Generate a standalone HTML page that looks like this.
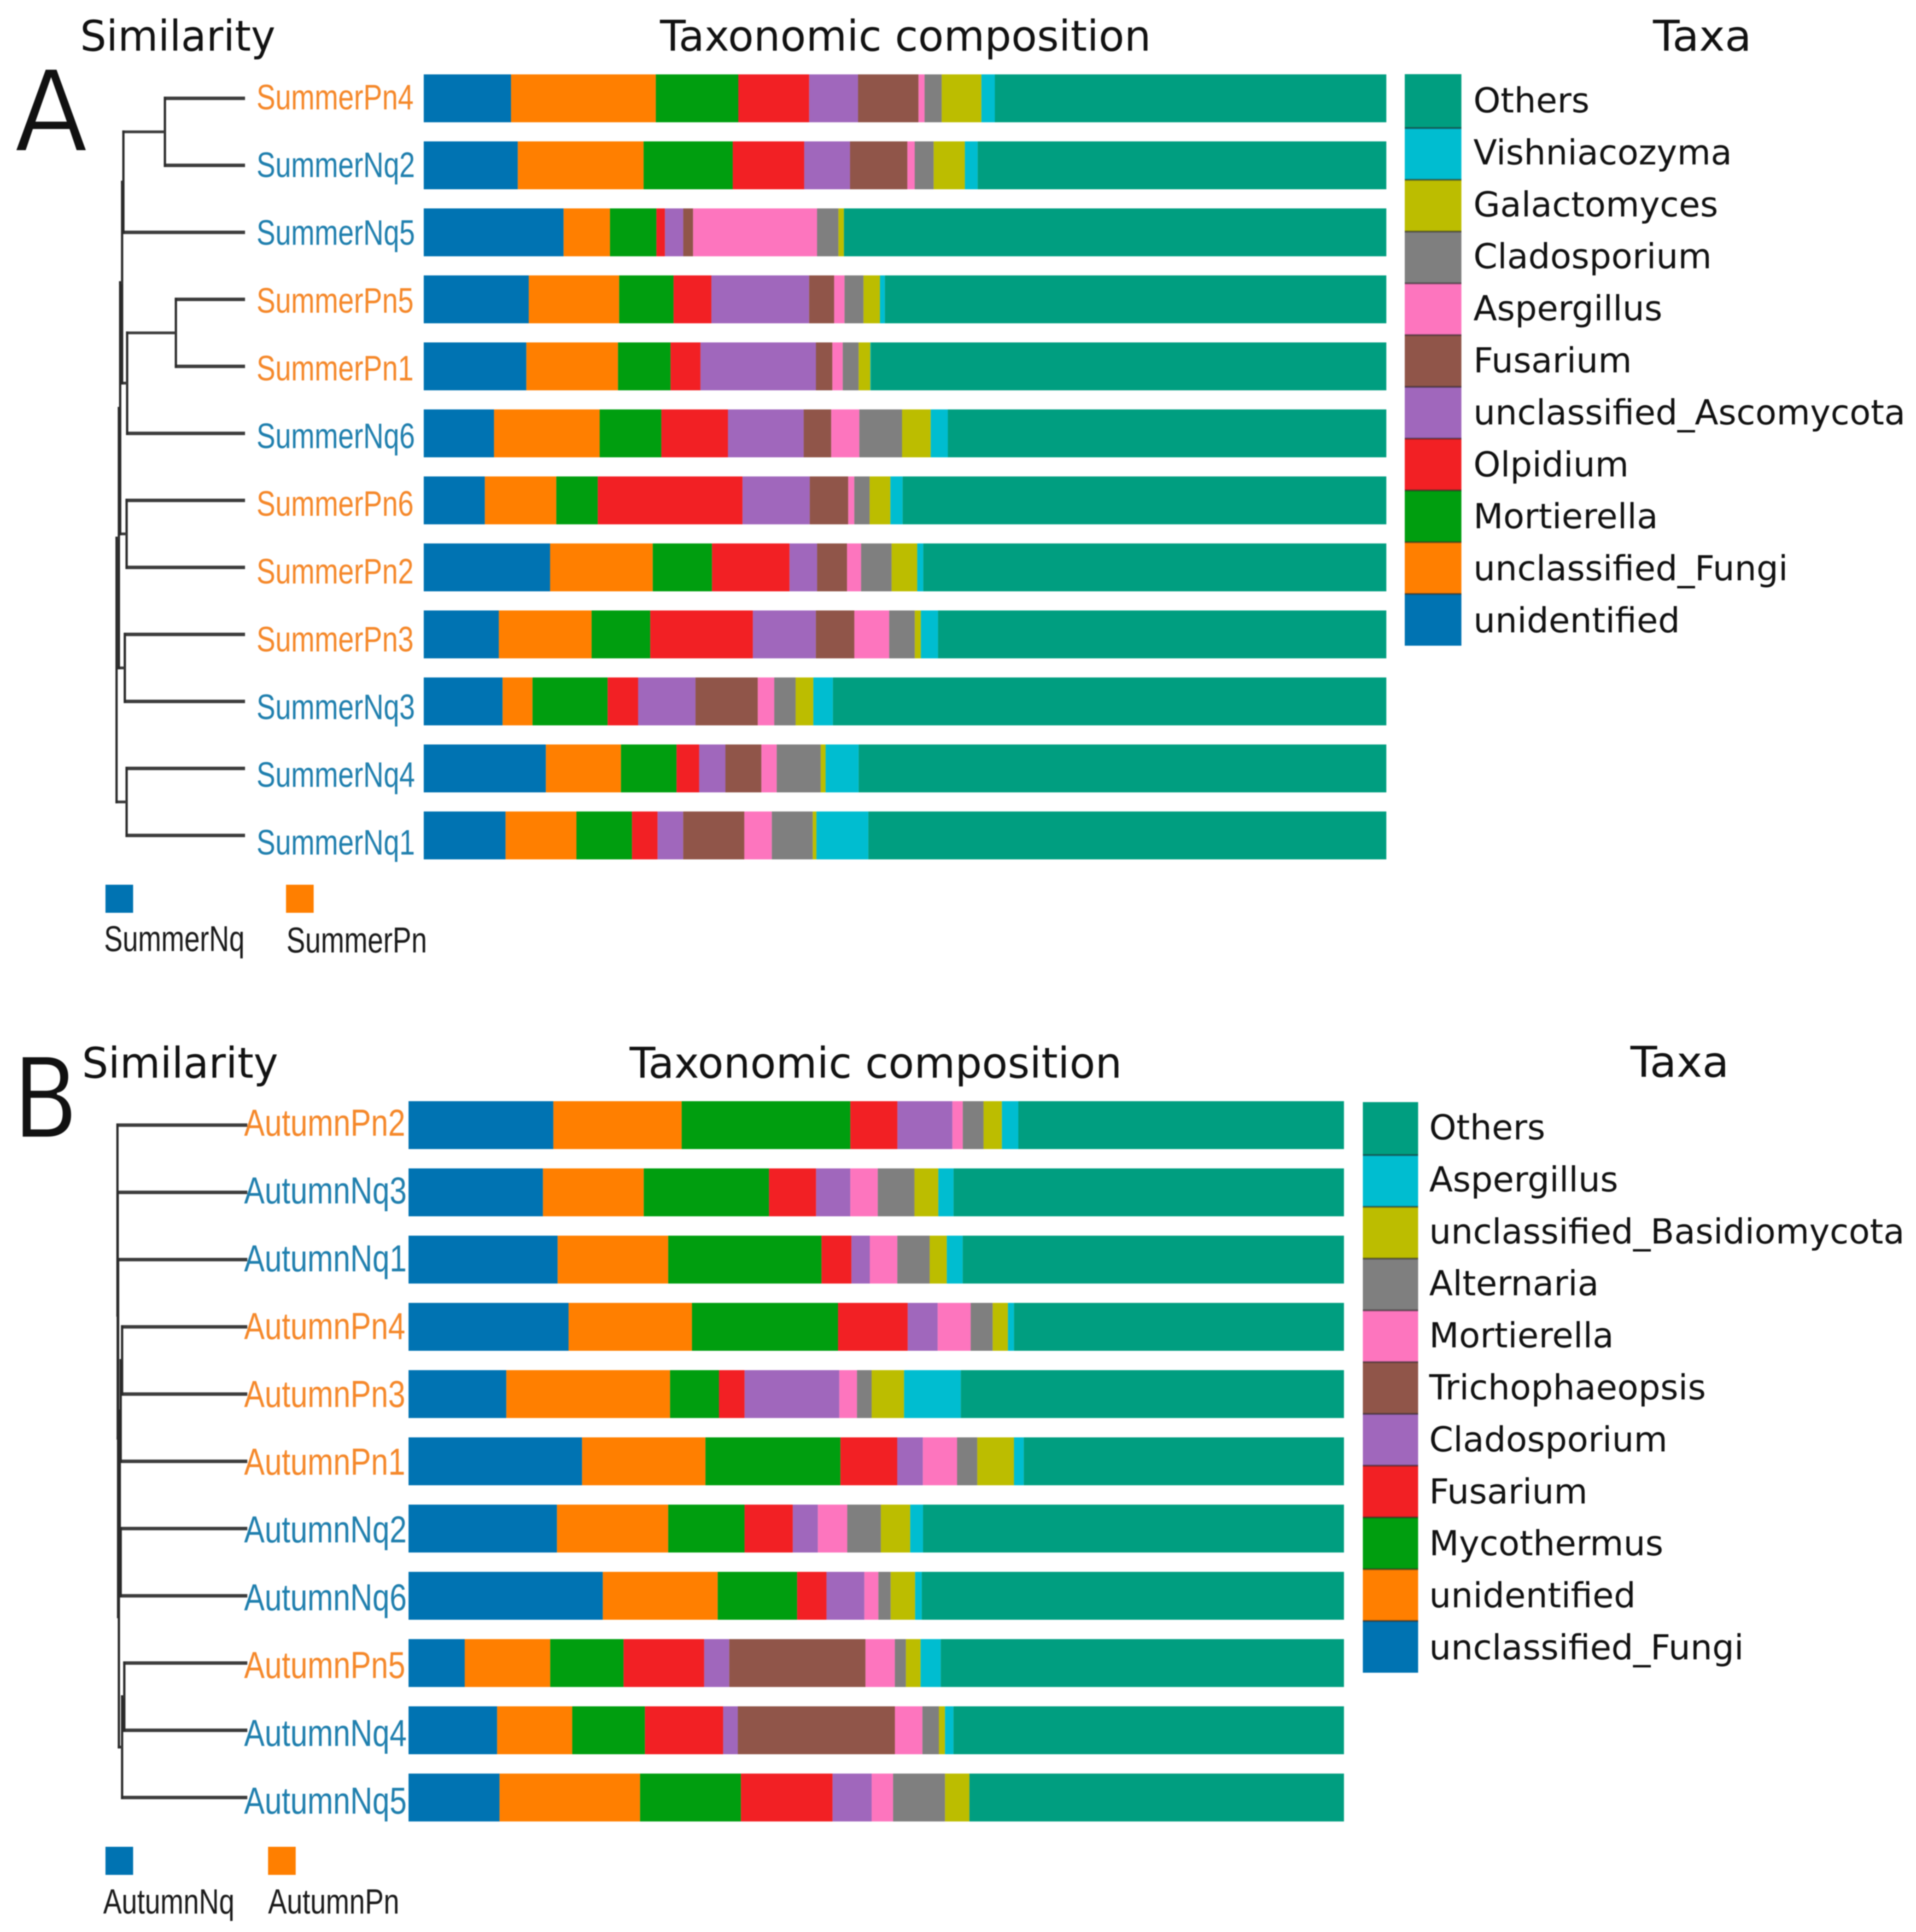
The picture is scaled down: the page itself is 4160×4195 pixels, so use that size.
<!DOCTYPE html>
<html lang="en">
<head>
<meta charset="utf-8">
<title>Taxonomic composition of summer and autumn samples</title>
<style>
  html, body { margin: 0; padding: 0; background: #ffffff; }
  svg { display: block; filter: blur(1.2px); }
  .dv { font-family: "DejaVu Sans", "Liberation Sans", sans-serif; fill: #111111; }
  .ls { font-family: "Liberation Sans", sans-serif; }
</style>
</head>
<body>
<svg id="figure" xmlns="http://www.w3.org/2000/svg" width="4160" height="4195" viewBox="0 0 4160 4195">
  <rect x="0" y="0" width="4160" height="4195" fill="#ffffff"/>

  <text class="dv" x="31" y="328" font-size="245" textLength="160" lengthAdjust="spacingAndGlyphs" stroke="#ffffff" stroke-width="4">A</text>
  <text class="dv" x="174" y="110" font-size="92" textLength="424" lengthAdjust="spacingAndGlyphs">Similarity</text>
  <text class="dv" x="1433" y="110" font-size="92" textLength="1066" lengthAdjust="spacingAndGlyphs">Taxonomic composition</text>
  <text class="dv" x="3589" y="110" font-size="92" textLength="214" lengthAdjust="spacingAndGlyphs">Taxa</text>

  <text class="dv" x="27" y="2470" font-size="242" textLength="144" lengthAdjust="spacingAndGlyphs" stroke="#ffffff" stroke-width="4">B</text>
  <text class="dv" x="178" y="2340" font-size="92" textLength="426" lengthAdjust="spacingAndGlyphs">Similarity</text>
  <text class="dv" x="1367" y="2340" font-size="92" textLength="1069" lengthAdjust="spacingAndGlyphs">Taxonomic composition</text>
  <text class="dv" x="3540" y="2338" font-size="92" textLength="214" lengthAdjust="spacingAndGlyphs">Taxa</text>

  <g id="panel-a"></g>
  <g id="panel-b"></g>
</svg>

<script>
// Panel A categories (top to bottom)
const summerSamples = ["SummerPn4","SummerNq2","SummerNq5","SummerPn5","SummerPn1","SummerNq6","SummerPn6","SummerPn2","SummerPn3","SummerNq3","SummerNq4","SummerNq1"];
// Panel A taxa, in stacking order (left to right)
const summerTaxa = ["unidentified","unclassified_Fungi","Mortierella","Olpidium","unclassified_Ascomycota","Fusarium","Aspergillus","Cladosporium","Galactomyces","Vishniacozyma","Others"];
// Panel A relative abundance (%) per sample
const summerPn4 = [9.07,15.04,8.57,7.36,5.08,6.28,0.63,1.78,4.12,1.40,40.67];
const summerNq2 = [9.77,13.07,9.26,7.42,4.76,5.96,0.76,1.97,3.24,1.33,42.45];
const summerNq5 = [14.53,4.82,4.82,0.89,1.90,1.02,12.88,2.22,0.57,0,56.35];
const summerPn5 = [10.91,9.39,5.65,3.93,10.15,2.60,1.08,1.97,1.71,0.51,52.09];
const summerPn1 = [10.66,9.52,5.46,3.11,11.99,1.71,1.08,1.65,1.21,0.06,53.55];
const summerNq6 = [7.30,10.98,6.41,6.92,7.87,2.86,2.92,4.44,2.98,1.78,45.56];
const summerPn6 = [6.35,7.42,4.31,15.04,6.98,4.00,0.63,1.59,2.16,1.27,50.25];
const summerPn2 = [13.13,10.66,6.15,8.06,2.86,3.11,1.46,3.17,2.66,0.63,48.10];
const summerPn3 = [7.80,9.64,6.09,10.66,6.54,4.00,3.62,2.66,0.63,1.78,46.57];
const summerNq3 = [8.19,3.11,7.80,3.17,5.96,6.47,1.71,2.22,1.84,2.03,57.49];
const summerNq4 = [12.69,7.80,5.77,2.35,2.73,3.74,1.59,4.57,0.51,3.43,54.82];
const summerNq1 = [8.50,7.36,5.77,2.66,2.66,6.35,2.86,4.25,0.38,5.39,53.81];
const summerValues = [summerPn4,summerNq2,summerNq5,summerPn5,summerPn1,summerNq6,summerPn6,summerPn2,summerPn3,summerNq3,summerNq4,summerNq1];
// Panel A dendrogram merges: [node, child, child, distance]
const summerMerges = [
  ["n1","SummerPn4","SummerNq2",61.4],
  ["n2","n1","SummerNq5",93.6],
  ["n3","SummerPn5","SummerPn1",52.9],
  ["n4","n3","SummerNq6",90.7],
  ["n5","n2","n4",94.6],
  ["n6","SummerPn6","SummerPn2",91.1],
  ["n7","n5","n6",96.1],
  ["n9","SummerPn3","SummerNq3",92.5],
  ["n8","n7","n9",97.1],
  ["n10","SummerNq4","SummerNq1",91.1],
  ["root","n8","n10",98.9]
];
const summerGroups = ["SummerNq","SummerPn"];

// Panel B categories (top to bottom)
const autumnSamples = ["AutumnPn2","AutumnNq3","AutumnNq1","AutumnPn4","AutumnPn3","AutumnPn1","AutumnNq2","AutumnNq6","AutumnPn5","AutumnNq4","AutumnNq5"];
// Panel B taxa, in stacking order (left to right)
const autumnTaxa = ["unclassified_Fungi","unidentified","Mycothermus","Fusarium","Cladosporium","Trichophaeopsis","Mortierella","Alternaria","unclassified_Basidiomycota","Aspergillus","Others"];
// Panel B relative abundance (%) per sample
const autumnPn2 = [15.48,13.72,18.03,5.03,5.88,0,1.11,2.22,1.96,1.76,34.81];
const autumnNq3 = [14.37,10.78,13.39,5.03,3.66,0,2.94,3.92,2.55,1.63,41.74];
const autumnNq1 = [15.94,11.82,16.39,3.20,1.96,0,2.94,3.46,1.83,1.70,40.76];
const autumnPn4 = [17.11,13.19,15.61,7.45,3.20,0,3.53,2.35,1.63,0.65,35.27];
const autumnPn3 = [10.45,17.50,5.23,2.74,10.12,0,1.89,1.57,3.46,6.07,40.95];
const autumnPn1 = [18.55,13.19,14.43,6.07,2.74,0,3.66,2.16,3.92,1.05,34.23];
const autumnNq2 = [15.87,11.89,8.16,5.16,2.68,0,3.14,3.59,3.14,1.37,45.00];
const autumnNq6 = [20.77,12.28,8.49,3.14,4.05,0,1.50,1.31,2.61,0.72,45.13];
const autumnPn5 = [6.01,9.14,7.84,8.62,2.68,14.57,3.14,1.18,1.57,2.16,43.11];
const autumnNq4 = [9.47,8.03,7.77,8.36,1.57,16.79,2.94,1.76,0.65,0.91,41.74];
const autumnNq5 = [9.73,15.02,10.78,9.80,4.18,0,2.29,5.55,2.61,0,40.04];
const autumnValues = [autumnPn2,autumnNq3,autumnNq1,autumnPn4,autumnPn3,autumnPn1,autumnNq2,autumnNq6,autumnPn5,autumnNq4,autumnNq5];
// Panel B dendrogram merges: [node, child, child, distance]
const autumnMerges = [
  ["a","AutumnPn4","AutumnPn3",97.1],
  ["b","a","AutumnPn1",98.2],
  ["c","AutumnNq2","AutumnNq6",98.2],
  ["d","b","c",98.9],
  ["e","AutumnPn5","AutumnNq4",95.4],
  ["f","e","AutumnNq5",97.1],
  ["g","d","f",99.6],
  ["h","AutumnNq1","g",100.2],
  ["i","AutumnNq3","h",100.5],
  ["root","AutumnPn2","i",100.7]
];
const autumnGroups = ["AutumnNq","AutumnPn"];

// Colours shared by both panels, in stacking order
const palette = ["#0073b2","#ff7f00","#009e0f","#f22024","#a067bc","#905549","#fd75be","#7f7f7f","#bcbd00","#00bdd0","#009e80"];

const NS = "http://www.w3.org/2000/svg";

function makeSvg(parent, tag, attrs, content) {
  const el = document.createElementNS(NS, tag);
  for (const key in attrs) el.setAttribute(key, attrs[key]);
  if (content !== undefined) el.textContent = content;
  parent.appendChild(el);
  return el;
}

function slug(text) {
  return text.toLowerCase().replace(/[^a-z0-9]+/g, "-");
}

function drawBars(g, cfg) {
  const rowY = function (i) { return cfg.barTop + cfg.rowPitch * i; };
  cfg.samples.forEach(function (sample, i) {
    const vals = cfg.values[i];
    const total = vals.reduce(function (s, v) { return s + v; }, 0);
    const xOf = function (v) { return cfg.barLeft + (v / total) * cfg.barWidth; };
    let cum = 0;
    vals.forEach(function (v, k) {
      const rect = makeSvg(g, "rect", { x: xOf(cum), y: rowY(i), width: Math.max(0, xOf(cum + v) - xOf(cum)), height: cfg.barHeight, fill: palette[k] });
      
      
      cum += v;
    });
    const isPn = sample.indexOf("Pn") >= 0;
    const label = makeSvg(g, "text", { class: "ls", x: cfg.labelX, y: cfg.labelBase + cfg.labelPitch * i, "font-size": cfg.labelSize, fill: isPn ? "#f5882a" : "#1f7fae", textLength: isPn ? cfg.labelPn : cfg.labelNq, lengthAdjust: "spacingAndGlyphs" }, sample);
    
    
  });
}

function drawTree(g, cfg) {
  const treeX = function (d) { return cfg.treeOrigin - d * 2.8; };
  const treeY = function (pos) { return cfg.barTop + cfg.barHeight / 2 + cfg.rowPitch * pos; };
  const nodes = {};
  cfg.samples.forEach(function (s, i) { nodes[s] = { d: 0, pos: i, leaf: true }; });
  cfg.merges.forEach(function (m) {
    const a = nodes[m[1]];
    const b = nodes[m[2]];
    const x = treeX(m[3]);
    const drawStem = function (child, key) {
      const stem = makeSvg(g, "line", { x1: x - 2.5, x2: child.leaf ? cfg.leafEnd : treeX(child.d), y1: treeY(child.pos), y2: treeY(child.pos), stroke: "#3c3c3c", "stroke-width": child.leaf ? 7.5 : 6 });
      
      
    };
    drawStem(a, m[1]);
    drawStem(b, m[2]);
    const join = makeSvg(g, "line", { x1: x, x2: x, y1: treeY(a.pos) - 3, y2: treeY(b.pos) + 3, stroke: "#2a2a2a", "stroke-width": 5 });
    
    
    nodes[m[0]] = { d: m[3], pos: (a.pos + b.pos) / 2, leaf: false };
  });
}

function drawLegend(g, cfg) {
  const n = cfg.taxa.length;
  for (let i = 0; i < n; i++) {
    const k = n - 1 - i;
    const top = cfg.legendTop + cfg.legendPitch * i;
    const extra = i === 0 ? cfg.legendFirstExtra : 0;
    const swatch = makeSvg(g, "rect", { x: cfg.legendX, y: top - extra, width: cfg.legendW, height: cfg.legendPitch + extra, fill: palette[k] });
    
    
    if (i > 0) {
      const seam = makeSvg(g, "rect", { x: cfg.legendX, y: top - 2, width: cfg.legendW, height: 4, fill: "#222222", "fill-opacity": 0.55 });
      
      
    }
    const entry = makeSvg(g, "text", { class: "dv", x: cfg.legendTextX, y: cfg.legendBase + cfg.legendTextPitch * i, "font-size": 75 }, cfg.taxa[k]);
    
    
  }
}

function drawGroups(g, cfg) {
  cfg.groups.forEach(function (group, i) {
    const swatch = makeSvg(g, "rect", { x: cfg.groupSwatchX[i], y: cfg.groupSwatchY, width: 60, height: cfg.groupSwatchH, fill: palette[i] });
    
    
    const text = makeSvg(g, "text", { class: "ls", x: cfg.groupTextX[i], y: cfg.groupBase[i], "font-size": cfg.groupSize, fill: "#1a1a1a", textLength: cfg.groupTextW, lengthAdjust: "spacingAndGlyphs" }, group);
    
    
  });
}

function drawPanel(g, cfg) {
  drawTree(g, cfg);
  drawBars(g, cfg);
  drawLegend(g, cfg);
  drawGroups(g, cfg);
}

drawPanel(document.getElementById("panel-a"), {
  samples: summerSamples, taxa: summerTaxa, values: summerValues, merges: summerMerges, groups: summerGroups,
  barLeft: 920, barWidth: 2090, barTop: 161.5, barHeight: 104, rowPitch: 145.5,
  treeOrigin: 530, leafEnd: 532, labelX: 557, labelBase: 237.5, labelPitch: 147.1, labelSize: 77, labelPn: 341, labelNq: 344,
  legendX: 3050, legendW: 123, legendTop: 165.6, legendFirstExtra: 4.6, legendPitch: 112.4, legendTextX: 3199, legendBase: 244, legendTextPitch: 112.9,
  groupSwatchX: [229, 621], groupSwatchY: 1921, groupSwatchH: 61, groupTextX: [226, 622], groupBase: [2065, 2068], groupSize: 78, groupTextW: 305
});

drawPanel(document.getElementById("panel-b"), {
  samples: autumnSamples, taxa: autumnTaxa, values: autumnValues, merges: autumnMerges, groups: autumnGroups,
  barLeft: 887, barWidth: 2031, barTop: 2391, barHeight: 104, rowPitch: 146,
  treeOrigin: 537, leafEnd: 537, labelX: 530, labelBase: 2466, labelPitch: 147.2, labelSize: 82, labelPn: 350, labelNq: 353,
  legendX: 2959, legendW: 120, legendTop: 2395.6, legendFirstExtra: 2.6, legendPitch: 112.4, legendTextX: 3103, legendBase: 2474, legendTextPitch: 112.9,
  groupSwatchX: [229, 582], groupSwatchY: 4010, groupSwatchH: 61, groupTextX: [224, 582], groupBase: [4155, 4155], groupSize: 76, groupTextW: 285
});
</script>
</body>
</html>
